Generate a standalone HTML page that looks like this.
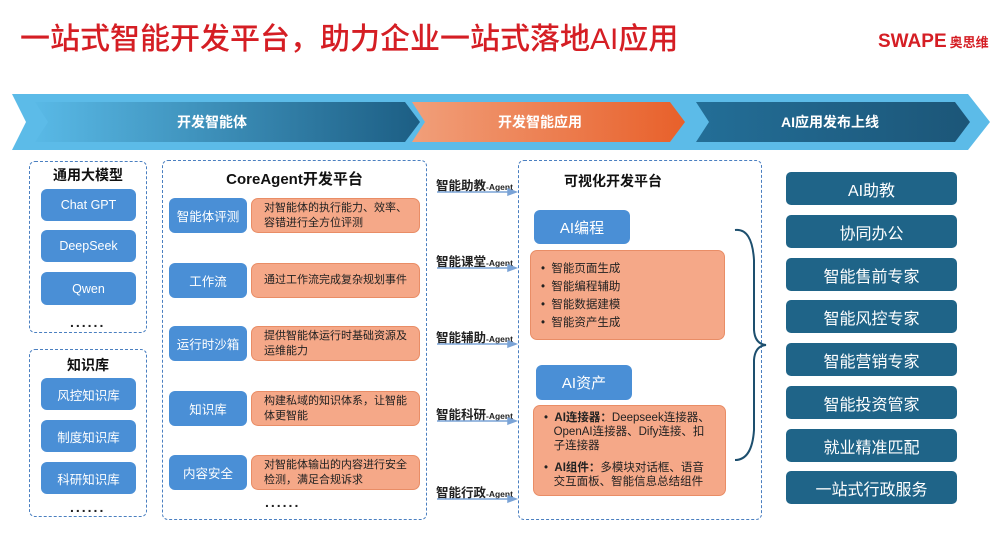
<!DOCTYPE html>
<html><head><meta charset="utf-8"><style>
*{margin:0;padding:0;box-sizing:border-box}
body{width:1000px;height:539px;overflow:hidden;background:#fff;position:relative;font-family:"Liberation Sans","Noto Sans CJK SC",sans-serif}
.a{position:absolute}
.t{left:20px;top:14px;font-size:30px;color:#d51e24;font-weight:500;letter-spacing:0}
.dash{border:1.5px dashed #4a7fc0;border-radius:6px}
.bb{background:#4a8fd6;color:#fff;border-radius:6px;font-size:12.5px;display:flex;align-items:center;justify-content:center}
.ob{background:#f5a888;border:1px solid #e98d66;border-radius:7px;color:#222;font-size:11px;line-height:15px;padding:0 0 0 12px;display:flex;align-items:center;white-space:nowrap}
.rb{background:#1f6488;color:#fff;border-radius:5px;font-size:16px;display:flex;align-items:center;justify-content:center;left:786px;width:171px;height:33px}
.h{font-weight:bold;font-size:14px;color:#111;text-align:center}
.ag{font-size:12.5px;font-weight:bold;color:#222}
.ag small{font-size:8.5px}
.dots{font-size:14px;letter-spacing:2px;color:#222;font-weight:bold}
</style></head><body>
<div class="a t">一站式智能开发平台，助力企业一站式落地AI应用</div>
<div class="a" style="left:878px;top:31px;font-size:19px;color:#d51e24;font-weight:bold">SWAPE<span style="font-size:13px;margin-left:3px">奥思维</span></div>
<svg class="a" style="left:0;top:88px" width="1000" height="70">
<defs>
<linearGradient id="g1" x1="0" x2="1"><stop offset="0" stop-color="#59b9e6"/><stop offset="1" stop-color="#1c5e84"/></linearGradient>
<linearGradient id="g2" x1="0" x2="1"><stop offset="0" stop-color="#f19f7a"/><stop offset="1" stop-color="#e8602a"/></linearGradient>
<linearGradient id="g3" x1="0" x2="1"><stop offset="0" stop-color="#236e97"/><stop offset="1" stop-color="#1c5678"/></linearGradient>
</defs>
<polygon points="12,6 968,6 990,34 968,62 12,62 26,34" fill="#5cbbe8"/>
<polygon points="35,14 405,14 420,34 405,54 35,54 48,34" fill="url(#g1)"/>
<polygon points="412,14 670,14 685,34 670,54 412,54 425,34" fill="url(#g2)"/>
<polygon points="696,14 955,14 970,34 955,54 696,54 709,34" fill="url(#g3)"/>
<text x="212" y="39" fill="#fff" font-size="14" font-weight="bold" text-anchor="middle" font-family="Liberation Sans,Noto Sans CJK SC,sans-serif">开发智能体</text>
<text x="540" y="39" fill="#fff" font-size="14" font-weight="bold" text-anchor="middle" font-family="Liberation Sans,Noto Sans CJK SC,sans-serif">开发智能应用</text>
<text x="830" y="39" fill="#fff" font-size="14" font-weight="bold" text-anchor="middle" font-family="Liberation Sans,Noto Sans CJK SC,sans-serif">AI应用发布上线</text>
</svg>

<div class="a dash" style="left:29px;top:161px;width:118px;height:172px"></div>
<div class="a h" style="left:29px;top:165px;width:118px">通用大模型</div>
<div class="a bb" style="left:41px;top:189px;width:95px;height:32px">Chat GPT</div>
<div class="a bb" style="left:41px;top:230px;width:95px;height:32px">DeepSeek</div>
<div class="a bb" style="left:41px;top:272px;width:95px;height:33px">Qwen</div>
<div class="a dots" style="left:70px;top:314px">......</div>
<div class="a dash" style="left:29px;top:349px;width:118px;height:168px"></div>
<div class="a h" style="left:29px;top:355px;width:118px">知识库</div>
<div class="a bb" style="left:41px;top:378px;width:95px;height:32px">风控知识库</div>
<div class="a bb" style="left:41px;top:420px;width:95px;height:32px">制度知识库</div>
<div class="a bb" style="left:41px;top:462px;width:95px;height:32px">科研知识库</div>
<div class="a dots" style="left:70px;top:499px">......</div>

<div class="a dash" style="left:162px;top:160px;width:265px;height:360px"></div>
<div class="a h" style="left:162px;top:168px;width:265px;font-size:15px">CoreAgent开发平台</div>
<div class="a bb" style="left:169px;top:198px;width:78px;height:35px">智能体评测</div>
<div class="a ob" style="left:251px;top:198px;width:169px;height:35px">对智能体的执行能力、效率、<br>容错进行全方位评测</div>
<div class="a bb" style="left:169px;top:263px;width:78px;height:35px">工作流</div>
<div class="a ob" style="left:251px;top:263px;width:169px;height:35px">通过工作流完成复杂规划事件</div>
<div class="a bb" style="left:169px;top:326px;width:78px;height:35px">运行时沙箱</div>
<div class="a ob" style="left:251px;top:326px;width:169px;height:35px">提供智能体运行时基础资源及<br>运维能力</div>
<div class="a bb" style="left:169px;top:391px;width:78px;height:35px">知识库</div>
<div class="a ob" style="left:251px;top:391px;width:169px;height:35px">构建私域的知识体系，让智能<br>体更智能</div>
<div class="a bb" style="left:169px;top:455px;width:78px;height:35px">内容安全</div>
<div class="a ob" style="left:251px;top:455px;width:169px;height:35px">对智能体输出的内容进行安全<br>检测，满足合规诉求</div>
<div class="a dots" style="left:265px;top:494px">......</div>

<div class="a ag" style="left:436px;top:175px">智能助教<small>-Agent</small></div>
<div class="a ag" style="left:436px;top:251px">智能课堂<small>-Agent</small></div>
<div class="a ag" style="left:436px;top:327px">智能辅助<small>-Agent</small></div>
<div class="a ag" style="left:436px;top:404px">智能科研<small>-Agent</small></div>
<div class="a ag" style="left:436px;top:482px">智能行政<small>-Agent</small></div>
<svg class="a" style="left:430px;top:150px" width="90" height="370">
<g stroke="#7aa3d6" stroke-width="1.5" fill="#7aa3d6">
<line x1="7" y1="42" x2="80" y2="42"/><polygon points="86,42 78,39 78,45"/>
<line x1="7" y1="118" x2="80" y2="118"/><polygon points="86,118 78,115 78,121"/>
<line x1="7" y1="194" x2="80" y2="194"/><polygon points="86,194 78,191 78,197"/>
<line x1="7" y1="271" x2="80" y2="271"/><polygon points="86,271 78,268 78,274"/>
<line x1="7" y1="349" x2="80" y2="349"/><polygon points="86,349 78,346 78,352"/>
</g></svg>

<div class="a dash" style="left:518px;top:160px;width:244px;height:360px"></div>
<div class="a h" style="left:518px;top:171px;width:190px;font-size:14px">可视化开发平台</div>
<div class="a bb" style="left:534px;top:210px;width:96px;height:34px;font-size:15px">AI编程</div>
<div class="a ob" style="left:530px;top:250px;width:195px;height:90px;padding:0 0 0 10px;font-size:11.5px;line-height:18px;display:block;padding-top:9px">•&nbsp; 智能页面生成<br>•&nbsp; 智能编程辅助<br>•&nbsp; 智能数据建模<br>•&nbsp; 智能资产生成</div>
<div class="a bb" style="left:536px;top:365px;width:96px;height:35px;font-size:15px">AI资产</div>
<div class="a ob" style="left:533px;top:405px;width:193px;height:91px;display:block;padding:5px 6px 0 10px;font-size:11.5px;line-height:14px">•&nbsp; <b>AI连接器：</b>Deepseek连接器、<br>&nbsp;&nbsp;&nbsp;OpenAI连接器、Dify连接、扣<br>&nbsp;&nbsp;&nbsp;子连接器<div style="height:8px"></div>•&nbsp; <b>AI组件：</b>多模块对话框、语音<br>&nbsp;&nbsp;&nbsp;交互面板、智能信息总结组件</div>
<svg class="a" style="left:730px;top:220px" width="40" height="250">
<path d="M5,10 Q22,8 24,40 L24,110 Q25,124 36,125 Q25,126 24,140 L24,210 Q22,240 5,240" fill="none" stroke="#1d4f6e" stroke-width="2"/>
</svg>

<div class="a rb" style="top:172px">AI助教</div>
<div class="a rb" style="top:215px">协同办公</div>
<div class="a rb" style="top:258px">智能售前专家</div>
<div class="a rb" style="top:300px">智能风控专家</div>
<div class="a rb" style="top:343px">智能营销专家</div>
<div class="a rb" style="top:386px">智能投资管家</div>
<div class="a rb" style="top:429px">就业精准匹配</div>
<div class="a rb" style="top:471px">一站式行政服务</div>
</body></html>
